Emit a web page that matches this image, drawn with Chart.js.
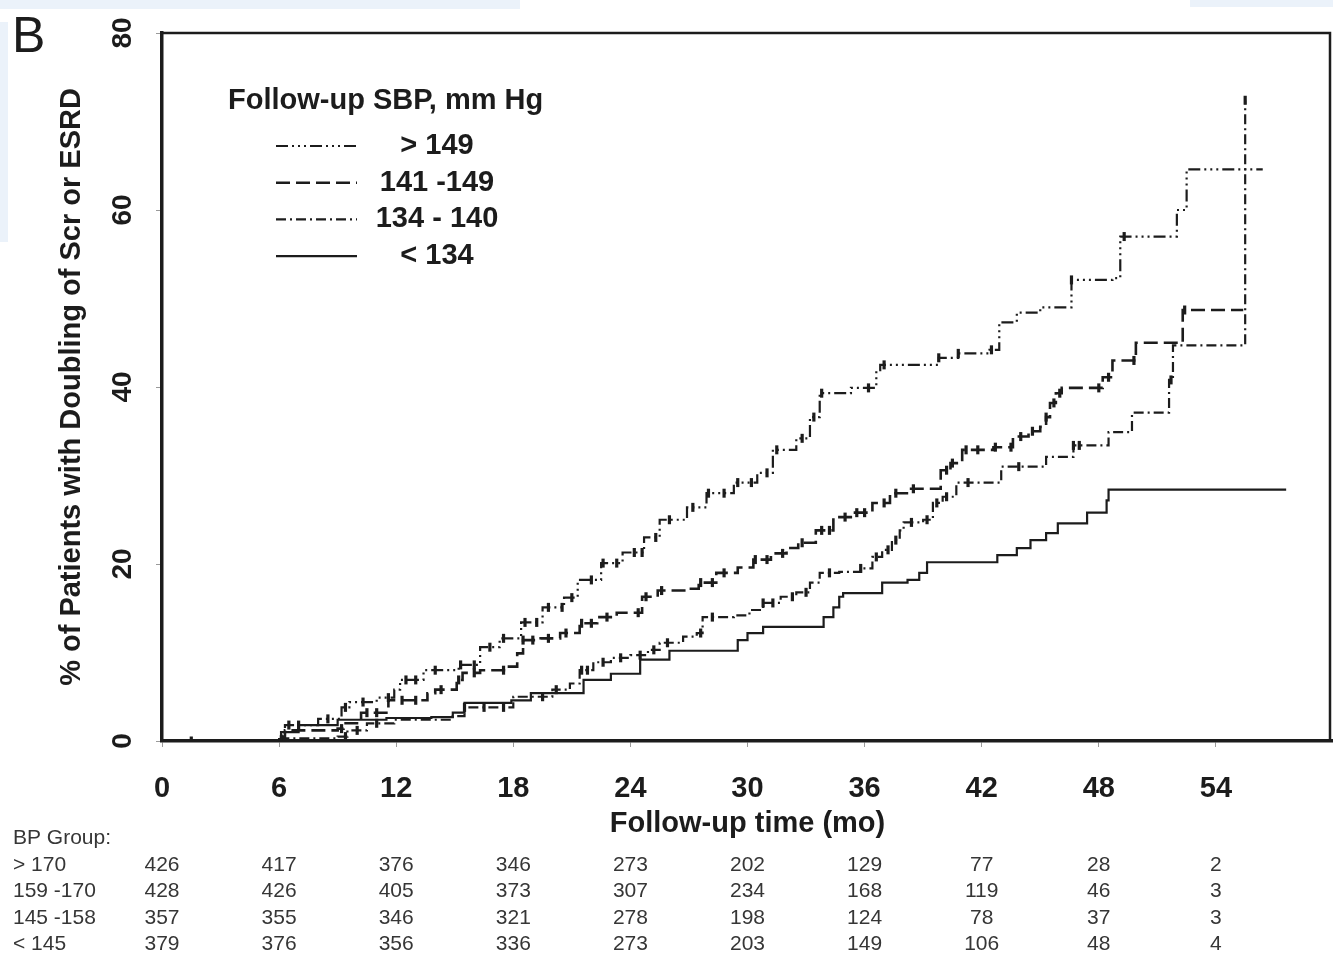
<!DOCTYPE html>
<html>
<head>
<meta charset="utf-8">
<title>Doubling of serum creatinine or ESRD by follow-up SBP</title>
<script src="https://cdn.jsdelivr.net/npm/chart.js@4.4.1/dist/chart.umd.min.js"></script>
<style>
  html, body { margin: 0; padding: 0; background: #ffffff; }
  #wrap { position: relative; width: 1333px; height: 960px; overflow: hidden; }
  #wrap canvas { position: absolute; left: 0; top: 0; }
  .tint { position: absolute; background: #ebf2fa; }
</style>
</head>
<body>
<div id="wrap">
  <div class="tint" style="left:0;top:0;width:520px;height:9px"></div>
  <div class="tint" style="left:1190px;top:0;width:143px;height:7px"></div>
  <div class="tint" style="left:0;top:22px;width:8px;height:220px"></div>
  <canvas id="km"></canvas>
</div>
<script>
// ---- axis ticks -------------------------------------------------------
const xTickLabels = [0, 6, 12, 18, 24, 30, 36, 42, 48, 54];
const yTickLabels = [0, 20, 40, 60, 80];

// ---- follow-up SBP groups (legend order) -------------------------------
const groupLabels = ['> 149', '141 -149', '134 - 140', '< 134'];

// Cumulative % with doubling of Scr or ESRD: [month, percent] at each step
const sbpOver149 = [
  [0, 0], [6.0, 0.6], [6.3, 1.8], [8.0, 2.5], [9.2, 3.8], [9.6, 4.4], [11.0, 4.9],
  [11.9, 5.8], [12.2, 6.9], [13.4, 8.0], [15.2, 8.6], [16.3, 10.6], [17.3, 11.6],
  [18.4, 13.4], [19.5, 15.1], [20.6, 16.2], [21.3, 18.2], [22.5, 20.1], [23.6, 21.3],
  [24.7, 23.0], [25.5, 25.0], [26.9, 26.4], [27.9, 28.0], [29.3, 29.2], [30.5, 30.3],
  [31.3, 32.9], [32.5, 34.2], [33.2, 36.6], [33.7, 39.3], [35.3, 39.9], [36.6, 41.9],
  [36.8, 42.5], [39.8, 43.3], [40.8, 43.8], [42.4, 44.2], [42.9, 47.3], [43.8, 48.4],
  [45.0, 49.0], [46.6, 52.1], [48.7, 52.3], [49.1, 57.0], [52.0, 60.0], [52.5, 64.6],
  [56.4, 64.6]
];
const sbp141to149 = [
  [0, 0], [6.1, 0.5], [6.3, 1.2], [9.0, 1.4], [9.3, 2.0], [10.2, 3.2], [11.6, 4.6],
  [13.6, 5.4], [14.0, 5.8], [15.1, 6.9], [15.4, 7.7], [16.3, 8.0], [17.7, 8.4],
  [18.2, 9.9], [18.5, 11.4], [19.4, 11.6], [20.4, 12.2], [21.4, 13.3], [22.3, 14.0],
  [23.3, 14.5], [24.6, 16.3], [25.4, 17.0], [27.1, 17.2], [27.5, 17.9], [28.4, 19.0],
  [29.5, 19.6], [30.3, 20.5], [31.2, 21.2], [32.0, 21.8], [32.6, 22.4], [33.5, 23.8],
  [34.4, 25.3], [35.4, 25.8], [36.4, 26.9], [37.3, 28.0], [38.3, 28.5], [39.9, 30.6],
  [40.4, 31.4], [41.0, 32.9], [42.6, 33.2], [43.6, 34.4], [44.4, 35.0], [45.0, 35.5],
  [45.3, 36.6], [45.5, 38.2], [45.8, 39.3], [46.1, 39.9], [48.2, 41.1], [48.7, 43.0],
  [49.9, 45.0], [52.3, 48.7], [55.4, 48.7]
];
const sbp134to140 = [
  [0, 0], [6.1, 0.3], [9.0, 0.5], [9.5, 1.2], [10.5, 2.0], [11.9, 2.4], [14.9, 2.8],
  [15.5, 3.8], [18.0, 5.0], [20.0, 5.8], [20.9, 6.5], [21.4, 8.0], [22.1, 8.9],
  [23.0, 9.4], [24.0, 9.7], [24.9, 10.3], [25.5, 11.1], [26.7, 11.8], [27.4, 12.2],
  [27.7, 14.0], [29.3, 14.2], [30.1, 14.8], [30.8, 15.6], [31.7, 16.3], [32.5, 16.8],
  [33.2, 17.9], [33.7, 19.0], [34.7, 19.1], [35.8, 19.5], [36.4, 20.8], [36.9, 21.6],
  [37.4, 22.7], [37.8, 23.8], [38.0, 24.7], [39.0, 25.0], [39.5, 26.9], [40.0, 27.6],
  [40.7, 29.2], [43.0, 31.0], [45.3, 32.1], [46.7, 33.4], [48.5, 34.9], [49.7, 37.1],
  [51.6, 40.8], [51.8, 44.7], [55.5, 44.7], [55.5, 72.4]
];
const sbpUnder134 = [
  [0, 0], [6.1, 1.0], [7.0, 1.8], [9.0, 2.4], [11.5, 2.6], [13.8, 2.7], [14.9, 3.2],
  [15.5, 4.3], [17.9, 4.6], [18.9, 5.4], [21.6, 6.9], [23.0, 7.6], [24.5, 9.2],
  [26.0, 10.2], [29.5, 11.4], [30.0, 12.2], [30.8, 12.9], [33.9, 14.0], [34.4, 15.1],
  [34.7, 16.3], [34.9, 16.7], [36.9, 17.9], [38.2, 18.2], [38.8, 19.0], [39.2, 20.2],
  [42.8, 21.0], [43.8, 21.8], [44.5, 22.7], [45.3, 23.5], [45.9, 24.6], [47.4, 25.8],
  [48.4, 27.2], [48.5, 28.4], [57.6, 28.4]
];

// Censoring times (months), marked on each curve
const censorOver149 = [
  1.5, 6.5, 7.0, 8.5, 9.4, 10.3, 11.6, 12.5, 13.0, 14.0, 15.3, 16.0, 16.8, 17.5, 18.6,
  19.2, 19.8, 20.5, 21.0, 22.0, 22.6, 23.3, 24.2, 24.6, 25.3, 26.0, 27.2, 28.0, 28.8,
  29.5, 30.2, 31.0, 31.5, 32.8, 33.4, 33.8, 36.2, 37.0, 39.8, 40.8, 42.5, 46.6, 49.3
];
const censor141to149 = [
  9.2, 10.5, 11.0, 12.3, 13.0, 14.3, 15.2, 16.0, 17.5, 18.5, 19.0, 19.8, 20.7, 21.5,
  22.0, 22.8, 24.4, 24.8, 25.6, 27.6, 28.2, 28.8, 30.4, 31.0, 31.8, 32.8, 33.8, 34.2,
  35.0, 35.6, 36.0, 37.0, 37.6, 38.5, 40.2, 40.5, 41.2, 41.8, 42.7, 43.5, 44.0, 44.6,
  45.3, 45.7, 46.0, 48.0, 48.5, 49.8, 52.4
];
const censor134to140 = [
  9.4, 10.0, 11.0, 15.5, 16.5, 17.5, 19.5, 20.2, 21.5, 21.8, 22.6, 23.5, 24.5, 25.2,
  25.9, 27.6, 28.2, 30.8, 31.3, 32.3, 33.0, 34.2, 35.8, 36.6, 37.2, 37.6, 38.4, 39.2,
  39.7, 40.2, 41.3, 43.9, 46.7, 47.0, 51.7, 55.5
];
const censorUnder134 = [];

// ---- number at risk table ---------------------------------------------
const riskTitle = 'BP Group:';
const riskGroups = ['> 170', '159 -170', '145 -158', '< 145'];
const riskOver170 = [426, 417, 376, 346, 273, 202, 129, 77, 28, 2];
const risk159to170 = [428, 426, 405, 373, 307, 234, 168, 119, 46, 3];
const risk145to158 = [357, 355, 346, 321, 278, 198, 124, 78, 37, 3];
const riskUnder145 = [379, 376, 356, 336, 273, 203, 149, 106, 48, 4];

// ---- drawing ----------------------------------------------------------
const FONT = '"Liberation Sans", Arial, Helvetica, sans-serif';
const INK = '#1c1c1c';

const curves = [sbpOver149, sbp141to149, sbp134to140, sbpUnder134];
const censors = [censorOver149, censor141to149, censor134to140, censorUnder134];
const riskRows = [riskOver170, risk159to170, risk145to158, riskUnder145];
const lineStyles = [
  { dash: [12, 4, 2, 4, 2, 4, 2, 4], width: 2.2 },
  { dash: [14, 6], width: 2.6 },
  { dash: [10, 4, 2, 4], width: 2.2 },
  { dash: [], width: 2.2 }
];

// value of a step curve at time t
function stepValueAt(series, t) {
  let v = series[0][1];
  for (const [x, y] of series) {
    if (x <= t) v = y; else break;
  }
  return v;
}

const datasets = [];
curves.forEach((series, i) => {
  datasets.push({
    label: groupLabels[i],
    data: series.map(([x, y]) => ({ x, y })),
    stepped: true,
    borderColor: INK,
    borderWidth: lineStyles[i].width,
    borderDash: lineStyles[i].dash,
    pointRadius: 0,
    fill: false
  });
});
censors.forEach((times, i) => {
  if (!times.length) return;
  datasets.push({
    label: groupLabels[i] + ' censored',
    data: times.map(t => ({ x: t, y: stepValueAt(curves[i], t) })),
    showLine: false,
    pointStyle: 'line',
    rotation: 90,
    pointRadius: 4.5,
    pointBorderWidth: 3.2,
    pointBorderColor: INK,
    borderColor: INK
  });
});

const overlay = {
  id: 'overlay',
  afterDraw(chart) {
    const { ctx, chartArea: a, scales } = chart;
    const xs = scales.x, ys = scales.y;
    ctx.save();

    // top and right frame
    ctx.strokeStyle = INK;
    ctx.lineWidth = 2.5;
    ctx.setLineDash([]);
    ctx.beginPath();
    ctx.moveTo(a.left, a.top);
    ctx.lineTo(a.right - 3, a.top);
    ctx.lineTo(a.right - 3, a.bottom);
    ctx.stroke();

    // rotated y tick labels
    ctx.fillStyle = INK;
    ctx.font = 'bold 28px ' + FONT;
    ctx.textAlign = 'center';
    ctx.textBaseline = 'middle';
    yTickLabels.forEach(v => {
      ctx.save();
      ctx.translate(a.left - 39, ys.getPixelForValue(v));
      ctx.rotate(-Math.PI / 2);
      ctx.fillText(String(v), 0, 0);
      ctx.restore();
    });

    // panel letter
    ctx.font = '50px ' + FONT;
    ctx.textAlign = 'left';
    ctx.textBaseline = 'alphabetic';
    ctx.fillText('B', 12, 52);

    // legend
    const lx = a.left + 66, ly = a.top + 68;
    ctx.font = 'bold 29px ' + FONT;
    ctx.textBaseline = 'middle';
    ctx.fillText('Follow-up SBP, mm Hg', lx, ly);
    groupLabels.forEach((lab, i) => {
      const y = ly + 45 + i * 36.7;
      ctx.strokeStyle = INK;
      ctx.lineWidth = lineStyles[i].width;
      ctx.setLineDash(lineStyles[i].dash);
      ctx.beginPath();
      ctx.moveTo(lx + 48, y);
      ctx.lineTo(lx + 129, y);
      ctx.stroke();
      ctx.setLineDash([]);
      ctx.textAlign = 'center';
      ctx.fillText(lab, lx + 209, y);
      ctx.textAlign = 'left';
    });

    // number at risk
    ctx.fillStyle = '#363636';
    ctx.font = '21px ' + FONT;
    ctx.textAlign = 'left';
    ctx.fillText(riskTitle, 13, 838);
    riskGroups.forEach((g, r) => {
      const y = 865 + r * 26.5;
      ctx.textAlign = 'left';
      ctx.fillText(g, 13, y);
      ctx.textAlign = 'center';
      riskRows[r].forEach((n, c) => {
        ctx.fillText(String(n), xs.getPixelForValue(xTickLabels[c]), y);
      });
    });
    ctx.restore();
  }
};

function build() {
  new Chart(document.getElementById('km'), {
    type: 'line',
    data: { datasets },
    plugins: [overlay],
    options: {
      responsive: false,
      animation: false,
      events: [],
      layout: { autoPadding: false, padding: { top: 33, right: 0, bottom: 109, left: 0 } },
      plugins: { legend: { display: false }, tooltip: { enabled: false } },
      scales: {
        x: {
          type: 'linear',
          min: 0,
          max: 60,
          afterBuildTicks: s => { s.ticks = xTickLabels.map(v => ({ value: v })); },
          afterFit: s => { s.height = 110; s.paddingLeft = 0; s.paddingRight = 0; },
          ticks: {
            font: { family: FONT, size: 29, weight: 'bold' },
            color: INK,
            padding: 25,
            maxRotation: 0,
            autoSkip: false,
            callback: v => String(v)
          },
          grid: { drawOnChartArea: false, tickLength: 6, color: '#9a9a9a', lineWidth: 1 },
          border: { color: INK, width: 3.5 },
          title: {
            display: true,
            text: 'Follow-up time (mo)',
            font: { family: FONT, size: 29, weight: 'bold' },
            color: INK,
            padding: { top: 0, bottom: 10 }
          }
        },
        y: {
          min: 0,
          max: 80,
          afterBuildTicks: s => { s.ticks = yTickLabels.map(v => ({ value: v })); },
          afterFit: s => { s.width = 162; },
          ticks: { display: false },
          grid: { drawOnChartArea: false, tickLength: 6, color: '#9a9a9a', lineWidth: 1 },
          border: { color: INK, width: 3.5 },
          title: {
            display: true,
            text: '% of Patients with Doubling of Scr or ESRD',
            font: { family: FONT, size: 29, weight: 'bold' },
            color: INK,
            padding: { top: 55, bottom: 0 }
          }
        }
      }
    }
  });
}

const cv = document.getElementById('km');
cv.width = 1333;
cv.height = 960;
cv.style.width = '1333px';
cv.style.height = '960px';

Promise.all([
  document.fonts.load('bold 29px "Liberation Sans"'),
  document.fonts.load('21px "Liberation Sans"'),
  document.fonts.load('50px "Liberation Sans"')
]).then(build, build);
</script>
</body>
</html>
